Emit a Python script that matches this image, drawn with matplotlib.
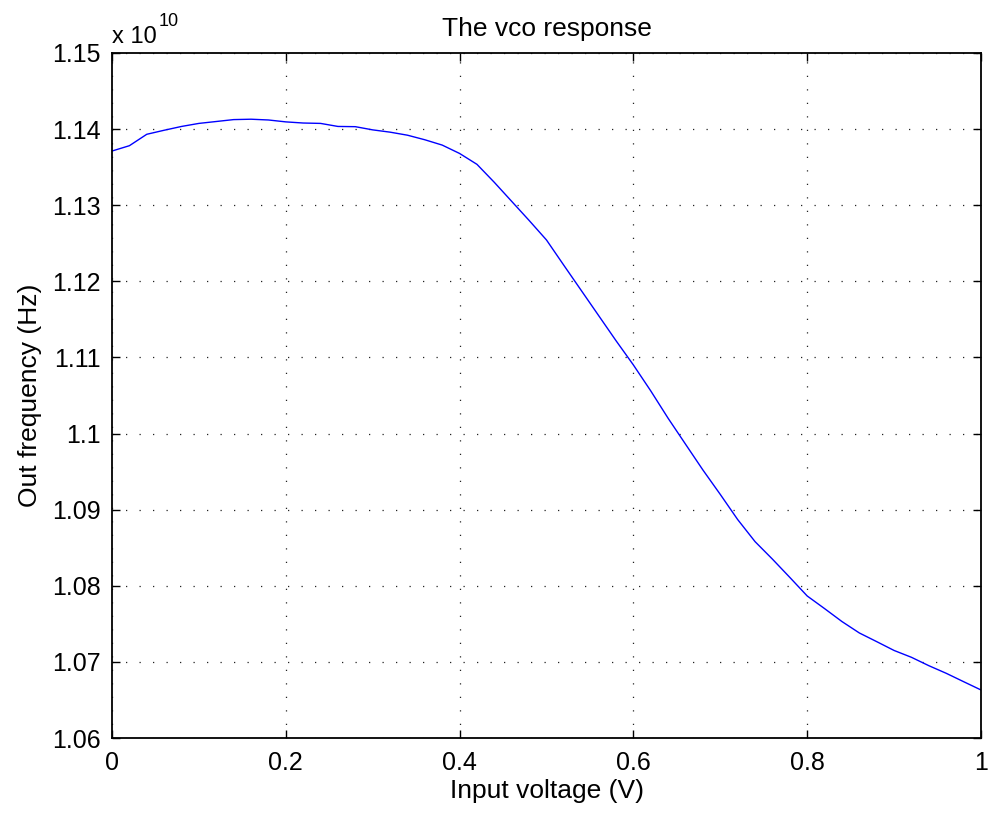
import matplotlib
matplotlib.use("Agg")
import matplotlib.pyplot as plt
from matplotlib.ticker import FuncFormatter, MultipleLocator

plt.rcParams['font.family'] = ['Liberation Sans', 'DejaVu Sans']

voltage = [0.00, 0.02, 0.04, 0.06, 0.08, 0.10, 0.12, 0.14, 0.16, 0.18,
           0.20, 0.22, 0.24, 0.26, 0.28, 0.30, 0.32, 0.34, 0.36, 0.38,
           0.40, 0.42, 0.44, 0.46, 0.48, 0.50, 0.52, 0.54, 0.56, 0.58,
           0.60, 0.62, 0.64, 0.66, 0.68, 0.70, 0.72, 0.74, 0.76, 0.78,
           0.80, 0.82, 0.84, 0.86, 0.88, 0.90, 0.92, 0.94, 0.96, 0.98, 1.00]
# frequency in units of 1e10 Hz
freq = [1.13712, 1.13782, 1.13932, 1.13985, 1.14035, 1.14075, 1.14100, 1.14125, 1.14130, 1.14120,
        1.14095, 1.14080, 1.14075, 1.14035, 1.14032, 1.13990, 1.13960, 1.13920, 1.13860, 1.13790,
        1.13680, 1.13537, 1.13300, 1.13050, 1.12800, 1.12543, 1.12210, 1.11880, 1.11550, 1.11220,
        1.10901, 1.10560, 1.10200, 1.09860, 1.09521, 1.09200, 1.08870, 1.08580, 1.08350, 1.08110,
        1.07866, 1.07700, 1.07530, 1.07380, 1.07266, 1.07150, 1.07060, 1.06950, 1.06850, 1.06740, 1.06631]

W, H = 990, 813
fig = plt.figure(figsize=(W/100, H/100), dpi=100)
ax = fig.add_axes([112/W, 75/H, 869/W, 685/H])
ax.plot(voltage, freq, color='#0000ff', linewidth=1.0)

ax.set_xlim(0, 1)
ax.set_ylim(1.06, 1.15)
ax.xaxis.set_major_locator(MultipleLocator(0.2))
ax.yaxis.set_major_locator(MultipleLocator(0.01))
ax.xaxis.set_major_formatter(FuncFormatter(lambda v, p: '%g' % round(v, 4)))
ax.yaxis.set_major_formatter(FuncFormatter(lambda v, p: '%g' % round(v, 4)))
ax.tick_params(direction='in', top=True, right=True, length=6, width=1,
               labelsize=18)
ax.tick_params(axis='x', pad=9)
ax.tick_params(axis='y', pad=8)
ax.grid(True, linestyle=(0, (1, 9.8)), color='#222222', linewidth=0.9)
for s in ax.spines.values():
    s.set_linewidth(1.3)

ax.set_xlabel('Input voltage (V)', fontsize=19, labelpad=3)
ax.set_ylabel('Out frequency (Hz)', fontsize=19, labelpad=7)
ax.set_title('The vco response', fontsize=19, pad=12)

fig.text(112/W, (H-43)/H, 'x 10', fontsize=17, ha='left', va='baseline')
fig.text(159/W, (H-26)/H, '10', fontsize=13, ha='left', va='baseline')

fig.savefig('out.png', dpi=100)
